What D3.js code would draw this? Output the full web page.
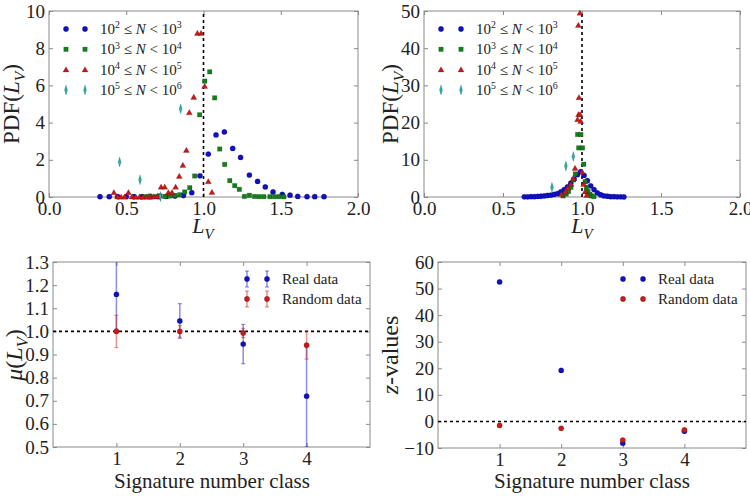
<!DOCTYPE html>
<html><head><meta charset="utf-8">
<script src="https://cdn.jsdelivr.net/npm/d3@7"></script>
<style>body{margin:0;background:#fff}svg{display:block}</style>
</head><body>
<svg id="c" width="750" height="496"></svg>
<script>
// ---------- DATA ----------
// Top-left panel: [L_V, PDF]
const tlBlue = [[0.33,0.02],[0.39,0.02],[0.445,0.02],[0.50,0.02],[0.55,0.02],[0.60,0.02],[0.655,0.02],[0.71,0.02],[0.76,0.03],[0.815,0.05],[0.87,0.08],[0.924,0.23],[0.977,1.14],[1.031,2.31],[1.081,3.34],[1.135,3.5],[1.189,2.61],[1.24,2.13],[1.297,1.18],[1.35,0.84],[1.40,0.54],[1.45,0.27],[1.51,0.14],[1.56,0.1],[1.61,0.03],[1.67,0.02],[1.72,0.02],[1.78,0.02]];
const tlGreen = [[0.62,0.02],[0.652,0.05],[0.685,0.02],[0.717,0.06],[0.749,0.03],[0.781,0.05],[0.814,0.08],[0.846,0.12],[0.878,0.27],[0.911,0.5],[0.943,1.13],[0.975,4.42],[1.008,6.23],[1.04,6.73],[1.072,5.33],[1.105,2.58],[1.137,1.75],[1.17,0.88],[1.202,0.61],[1.232,0.41],[1.265,0.03],[1.297,0.09],[1.33,0.03],[1.36,0.02],[1.39,0.02],[1.43,0.02],[1.46,0.02],[1.49,0.02],[1.52,0.01]];
const tlRed = [[0.42,0.25],[0.444,0.03],[0.467,0.01],[0.49,0.02],[0.514,0.25],[0.538,0.02],[0.561,0.01],[0.585,0.01],[0.608,0.01],[0.632,0.01],[0.655,0.01],[0.679,0.02],[0.702,0.05],[0.7255,0.55],[0.749,0.55],[0.7725,0.25],[0.796,0.25],[0.8195,0.55],[0.843,1.13],[0.8665,1.72],[0.889,2.52],[0.908,4.55],[0.937,5.38],[0.9605,8.82],[0.984,8.82],[1.0075,5.96],[1.031,0.84],[1.0545,0.27]];
const tlCyan = [[0.457,1.88],[0.589,0.93],[0.721,0.02],[0.852,4.74]];
// Top-right panel: [L_V, PDF]
const trBlue = [[0.635,0.05],[0.656,0.05],[0.677,0.1],[0.698,0.1],[0.719,0.15],[0.740,0.2],[0.761,0.3],[0.782,0.4],[0.803,0.5],[0.824,0.7],[0.845,0.9],[0.866,1.4],[0.887,2.0],[0.908,2.7],[0.929,3.7],[0.950,4.8],[0.971,6.0],[0.992,6.8],[1.013,5.8],[1.034,4.4],[1.055,3.0],[1.076,2.0],[1.097,1.1],[1.118,0.6],[1.139,0.3],[1.160,0.2],[1.181,0.1],[1.202,0.1],[1.223,0.05],[1.244,0.05],[1.265,0.02]];
const trGreen = [[0.88,0.3],[0.90,0.8],[0.915,1.5],[0.93,2.6],[0.945,4.6],[0.958,6.2],[0.972,16.8],[0.979,13.2],[0.993,16.8],[1.003,13.2],[1.011,8.8],[1.02,4.1],[1.028,2.6],[1.038,1.5],[1.05,0.7],[1.06,0.3],[1.075,0.1]];
const trRed = [[0.87,0.8],[0.895,1.5],[0.91,2.5],[0.93,3.5],[0.945,5.0],[0.956,7.8],[0.972,20.9],[0.977,46.2],[0.978,22.2],[0.981,26.8],[0.987,49.5],[0.988,22.2],[0.992,20.4],[1.0,6.8],[1.01,3.5],[1.02,1.5],[1.03,0.5]];
const trCyan = [[0.81,2.6],[0.898,8.3],[0.945,10.9]];
const legendLabels = [["2","3"],["3","4"],["4","5"],["5","6"]];
// Bottom panels
const classes = [1,2,3,4];
const muReal = [1.16,1.045,0.945,0.72];
const muRealErr = [0.15,0.075,0.085,0.22];
const muRand = [1.0,1.0,0.993,0.94];
const muRandErr = [0.07,0.025,0.02,0.06];
const zReal = [52.5,19.2,-8.2,-3.7];
const zRand = [-1.5,-2.6,-7.0,-3.2];
const pdfTicksX = [0,0.5,1,1.5,2];
const tlTicksY = [0,2,4,6,8,10];
const trTicksY = [0,10,20,30,40,50];
const muTicksY = [0.5,0.6,0.7,0.8,0.9,1.0,1.1,1.2,1.3];
const zTicksY = [-10,0,10,20,30,40,50,60];

// ---------- STYLE ----------
const FONT = "'Liberation Serif','DejaVu Serif',serif";
const TXT = "#222";
const FRAME = "#8a8a8a";
const C = {blue:"#1010c8", green:"#118018", red:"#cc1818", cyan:"#25b0b0"};

const svg = d3.select("#c");

function panel(box, xd, yd, xt, yt, xf, yf) {
  const x = d3.scaleLinear().domain(xd).range([box.x0, box.x1]);
  const y = d3.scaleLinear().domain(yd).range([box.y1, box.y0]);
  const g = svg.append("g");
  const st = sel => {
    sel.select(".domain").remove();
    sel.selectAll("line").attr("stroke", FRAME);
    sel.selectAll("text").attr("font-family", FONT).attr("font-size", 19).attr("fill", TXT);
  };
  g.append("g").attr("transform",`translate(0,${box.y1})`)
    .call(d3.axisBottom(x).tickValues(xt).tickFormat(xf).tickSize(-4).tickPadding(5)).call(st);
  g.append("g").attr("transform",`translate(0,${box.y0})`)
    .call(d3.axisTop(x).tickValues(xt).tickFormat("").tickSize(-4)).call(st);
  g.append("g").attr("transform",`translate(${box.x0},0)`)
    .call(d3.axisLeft(y).tickValues(yt).tickFormat(yf).tickSize(-4).tickPadding(4)).call(st);
  g.append("g").attr("transform",`translate(${box.x1},0)`)
    .call(d3.axisRight(y).tickValues(yt).tickFormat("").tickSize(-4)).call(st);
  g.append("rect").attr("x",box.x0).attr("y",box.y0).attr("width",box.x1-box.x0).attr("height",box.y1-box.y0)
    .attr("fill","none").attr("stroke",FRAME).attr("stroke-width",1);
  return {x,y,g};
}

const symType = {circle:d3.symbolCircle, square:d3.symbolSquare, triangle:d3.symbolTriangle, diamond:d3.symbolDiamond};
const symSize = {circle:22, square:20, triangle:16, diamond:22};
function mark(g, px, py, type, color) {
  const p = g.append("path").attr("d", d3.symbol().type(symType[type]).size(symSize[type])())
    .attr("fill", color).attr("stroke", "#000").attr("stroke-opacity",0.35).attr("stroke-width",0.5);
  if (type==="diamond") p.attr("transform",`translate(${px},${py}) scale(0.6,1.15)`);
  else if (type==="triangle") p.attr("transform",`translate(${px},${py+0.7})`);
  else p.attr("transform",`translate(${px},${py})`);
}
function series(P, data, type, color) {
  data.forEach(d => mark(P.g, P.x(d[0]), P.y(d[1]), type, color));
}
function text(x, y, size, parts, opts={}) {
  const t = svg.append("text").attr("x",x).attr("y",y).attr("font-family",FONT).attr("font-size",size)
    .attr("fill",TXT).attr("text-anchor", opts.anchor || "start");
  if (opts.rotate) t.attr("transform",`rotate(-90,${x},${y})`);
  parts.forEach(p => {
    const s = t.append("tspan").text(p.t);
    if (p.i) s.attr("font-style","italic");
    if (p.sub) s.attr("font-size", size*0.68).attr("dy", size*0.25);
    if (p.sup) s.attr("font-size", size*0.66).attr("dy", -size*0.38);
    if (p.back) s.attr("dy", p.back);
  });
  return t;
}
const pdfLabel = size => [{t:"PDF("},{t:"L",i:true},{t:"V",i:true,sub:true},{t:")",back:-size*0.25}];
const lvLabel = size => [{t:"L",i:true},{t:"V",i:true,sub:true}];

// ---------- TOP-LEFT ----------
const fmt1 = d3.format(".1f");
const TL = panel({x0:49,x1:358,y0:11,y1:197},[0,2],[0,10],pdfTicksX,tlTicksY,fmt1,d3.format("d"));
TL.g.append("line").attr("x1",TL.x(1)).attr("x2",TL.x(1)).attr("y1",TL.y(0)).attr("y2",TL.y(10))
  .attr("stroke","#000").attr("stroke-width",1.6).attr("stroke-dasharray","3,3");
series(TL, tlBlue, "circle", C.blue);
series(TL, tlGreen, "square", C.green);
series(TL, tlRed, "triangle", C.red);
series(TL, tlCyan, "diamond", C.cyan);

// ---------- TOP-RIGHT ----------
const TR = panel({x0:424,x1:740,y0:11,y1:197},[0,2],[0,50],pdfTicksX,trTicksY,fmt1,d3.format("d"));
TR.g.append("line").attr("x1",TR.x(1)).attr("x2",TR.x(1)).attr("y1",TR.y(0)).attr("y2",TR.y(50))
  .attr("stroke","#000").attr("stroke-width",1.6).attr("stroke-dasharray","3,3");
series(TR, trBlue, "circle", C.blue);
series(TR, trGreen, "square", C.green);
series(TR, trRed, "triangle", C.red);
series(TR, trCyan, "diamond", C.cyan);

// legends top
const legTypes = [["circle",C.blue],["square",C.green],["triangle",C.red],["diamond",C.cyan]];
[[66,85,100],[441,461,476]].forEach(([m1,m2,tx]) => {
  legendLabels.forEach((lab,i) => {
    const yy = 29 + i*20.3;
    mark(svg, m1, yy, legTypes[i][0], legTypes[i][1]);
    mark(svg, m2, yy, legTypes[i][0], legTypes[i][1]);
    text(tx, yy+5, 15, [{t:"10"},{t:lab[0],sup:true},{t:" ≤ ",back:15*0.38},{t:"N",i:true},{t:" < 10"},{t:lab[1],sup:true}]);
  });
});

// axis labels top
text(19, 104, 23, pdfLabel(23), {anchor:"middle", rotate:true});
text(398, 104, 23, pdfLabel(23), {anchor:"middle", rotate:true});
text(203, 233, 22, lvLabel(22), {anchor:"middle"});
text(582, 233, 22, lvLabel(22), {anchor:"middle"});

// ---------- BOTTOM-LEFT ----------
const BL = panel({x0:53,x1:370,y0:262,y1:447},[0,5],[0.5,1.3],classes,muTicksY,d3.format("d"),fmt1);
BL.g.append("line").attr("x1",BL.x(0)).attr("x2",BL.x(5)).attr("y1",BL.y(1)).attr("y2",BL.y(1))
  .attr("stroke","#000").attr("stroke-width",1.6).attr("stroke-dasharray","3,3");
const clipId = "blclip";
svg.append("clipPath").attr("id",clipId).append("rect").attr("x",53).attr("y",262).attr("width",317).attr("height",185);
const ebG = svg.append("g").attr("clip-path",`url(#${clipId})`);
function errbar(g, px, yTop, yBot, color) {
  g.append("line").attr("x1",px).attr("x2",px).attr("y1",yTop).attr("y2",yBot)
    .attr("stroke",color).attr("stroke-opacity",0.45).attr("stroke-width",1.6);
  [yTop,yBot].forEach(yy => g.append("line").attr("x1",px-2).attr("x2",px+2).attr("y1",yy).attr("y2",yy)
    .attr("stroke",color).attr("stroke-opacity",0.45).attr("stroke-width",1.2));
}
classes.forEach((c,i) => {
  errbar(ebG, BL.x(c), BL.y(muReal[i]+muRealErr[i]), BL.y(muReal[i]-muRealErr[i]), C.blue);
});
classes.forEach((c,i) => {
  errbar(ebG, BL.x(c), BL.y(muRand[i]+muRandErr[i]), BL.y(muRand[i]-muRandErr[i]), C.red);
});
classes.forEach((c,i) => mark(svg, BL.x(c), BL.y(muReal[i]), "circle", C.blue));
classes.forEach((c,i) => mark(svg, BL.x(c), BL.y(muRand[i]), "circle", C.red));
[[279,C.blue,"Real data"],[299,C.red,"Random data"]].forEach(([yy,col,lab]) => {
  [247,267].forEach(mx => { errbar(svg, mx, yy-8, yy+8, col); mark(svg, mx, yy, "circle", col); });
  text(282, yy+5, 15, [{t:lab}]);
});
text(22, 355, 24, [{t:"μ",i:true},{t:"("},{t:"L",i:true},{t:"V",i:true,sub:true},{t:")",back:-24*0.25}], {anchor:"middle", rotate:true});
text(212, 488, 21, [{t:"Signature number class"}], {anchor:"middle"});

// ---------- BOTTOM-RIGHT ----------
const zf = d => d < 0 ? "\u2212" + Math.abs(d) : String(d);
const BR = panel({x0:438,x1:746,y0:262,y1:448},[0,5],[-10,60],classes,zTicksY,d3.format("d"),zf);
BR.g.append("line").attr("x1",BR.x(0)).attr("x2",BR.x(5)).attr("y1",BR.y(0)).attr("y2",BR.y(0))
  .attr("stroke","#000").attr("stroke-width",1.6).attr("stroke-dasharray","3,3");
classes.forEach((c,i) => mark(svg, BR.x(c), BR.y(zReal[i]), "circle", C.blue));
classes.forEach((c,i) => mark(svg, BR.x(c), BR.y(zRand[i]), "circle", C.red));
[[279,C.blue,"Real data"],[299,C.red,"Random data"]].forEach(([yy,col,lab]) => {
  [623,643].forEach(mx => mark(svg, mx, yy, "circle", col));
  text(658, yy+5, 15, [{t:lab}]);
});
text(398, 355, 24, [{t:"z",i:true},{t:"-values"}], {anchor:"middle", rotate:true});
text(592, 488, 21, [{t:"Signature number class"}], {anchor:"middle"});
</script>
</body></html>
